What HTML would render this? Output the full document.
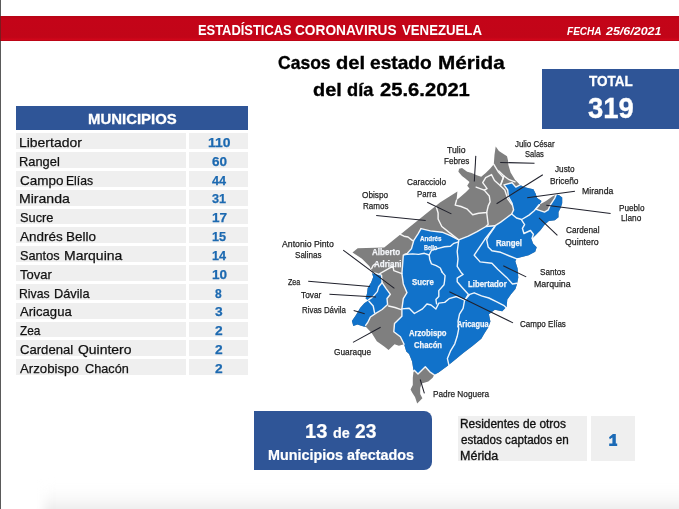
<!DOCTYPE html>
<html><head><meta charset="utf-8"><title>Estadísticas Coronavirus Venezuela</title>
<style>
html,body{margin:0;padding:0;background:#fff;}
body{width:679px;height:509px;position:relative;overflow:hidden;font-family:"Liberation Sans",sans-serif;}
.t{position:absolute;white-space:nowrap;line-height:1;transform-origin:left top;font-family:"Liberation Sans",sans-serif;}
.b{position:absolute;}
.rw{position:absolute;height:15.8px;background:#efefef;}
</style></head><body>
<div class="b" style="left:0;top:0;width:1px;height:509px;background:#5a5a5a"></div>
<div class="b" style="left:44px;top:484px;width:680px;height:40px;background:linear-gradient(#fff 0%,#fbfbfb 30%,#efefef 60%,#dedede 100%);filter:blur(5px)"></div>
<div class="b" style="left:0;top:16.3px;width:679px;height:25px;background:linear-gradient(#b50415 0%,#c40418 12%,#c20518 85%,#d0061a 94%,#b30414 100%)"></div>
<div class="b" style="left:542px;top:68.5px;width:137px;height:60.6px;background:#2f5597"></div>
<div class="b" style="left:16.3px;top:106.1px;width:232.2px;height:23.6px;background:#2f5597"></div>
<div class="b" style="left:0;top:16.3px;width:1px;height:25px;background:#7c1a1e"></div>
<div class="rw" style="top:133.30px;left:16.3px;width:169.6px"></div><div class="rw" style="top:133.30px;left:189.2px;width:59.3px"></div><div class="rw" style="top:152.13px;left:16.3px;width:169.6px"></div><div class="rw" style="top:152.13px;left:189.2px;width:59.3px"></div><div class="rw" style="top:170.96px;left:16.3px;width:169.6px"></div><div class="rw" style="top:170.96px;left:189.2px;width:59.3px"></div><div class="rw" style="top:189.79px;left:16.3px;width:169.6px"></div><div class="rw" style="top:189.79px;left:189.2px;width:59.3px"></div><div class="rw" style="top:208.62px;left:16.3px;width:169.6px"></div><div class="rw" style="top:208.62px;left:189.2px;width:59.3px"></div><div class="rw" style="top:227.45px;left:16.3px;width:169.6px"></div><div class="rw" style="top:227.45px;left:189.2px;width:59.3px"></div><div class="rw" style="top:246.28px;left:16.3px;width:169.6px"></div><div class="rw" style="top:246.28px;left:189.2px;width:59.3px"></div><div class="rw" style="top:265.11px;left:16.3px;width:169.6px"></div><div class="rw" style="top:265.11px;left:189.2px;width:59.3px"></div><div class="rw" style="top:283.94px;left:16.3px;width:169.6px"></div><div class="rw" style="top:283.94px;left:189.2px;width:59.3px"></div><div class="rw" style="top:302.77px;left:16.3px;width:169.6px"></div><div class="rw" style="top:302.77px;left:189.2px;width:59.3px"></div><div class="rw" style="top:321.60px;left:16.3px;width:169.6px"></div><div class="rw" style="top:321.60px;left:189.2px;width:59.3px"></div><div class="rw" style="top:340.43px;left:16.3px;width:169.6px"></div><div class="rw" style="top:340.43px;left:189.2px;width:59.3px"></div><div class="rw" style="top:359.26px;left:16.3px;width:169.6px"></div><div class="rw" style="top:359.26px;left:189.2px;width:59.3px"></div>
<div class="b" style="left:253.8px;top:410.9px;width:178.2px;height:58.8px;background:#2f5597;border-radius:0 8px 8px 0"></div>
<div class="b" style="left:458px;top:415.5px;width:129px;height:45.9px;background:#efefef"></div>
<div class="b" style="left:590.5px;top:415.5px;width:44.8px;height:45.9px;background:#efefef"></div>
<svg class="b" style="left:0;top:0" width="679" height="509" viewBox="0 0 679 509">
<path d="M352.5,252.4 L357.7,248.2 L384.2,247.4 L440.0,202.5 L457.4,191.5 L456.5,200.2 L460.6,196.7 L465.8,192.3 L469.5,188.6 L467.2,185.7 L469.5,182.0 L465.0,178.3 L462.0,176.1 L458.4,171.7 L459.1,168.7 L462.0,168.0 L467.2,171.7 L471.7,173.1 L476.8,175.3 L481.2,176.8 L485.7,173.1 L490.0,168.7 L493.8,164.3 L494.5,154.7 L495.7,146.6 L498.9,151.0 L507.0,156.2 L508.0,160.6 L508.4,165.0 L510.6,172.4 L515.0,179.7 L520.2,184.9 L523.9,187.1 L529.8,188.6 L533.4,189.3 L535.7,193.7 L537.1,198.1 L541.5,201.1 L539.3,204.8 L546.0,201.1 L551.9,196.7 L556.3,194.5 L559.2,195.2 L562.2,197.4 L562.2,203.3 L560.7,207.7 L558.5,212.1 L558.5,217.3 L554.8,220.2 L548.9,221.0 L544.8,224.4 L540.4,230.3 L536.0,234.7 L531.5,239.1 L533.0,243.6 L536.7,247.2 L535.2,251.7 L528.6,255.3 L522.7,256.8 L516.8,258.3 L515.3,261.2 L517.6,268.6 L518.3,277.4 L516.8,284.8 L515.4,289.1 L511.0,294.3 L507.3,299.5 L506.6,306.8 L502.2,311.2 L494.8,309.8 L488.9,314.2 L490.4,321.5 L488.2,327.4 L484.5,333.3 L481.3,338.7 L472.5,346.0 L463.6,352.7 L454.8,360.0 L447.4,365.9 L438.6,372.6 L434.2,374.8 L432.7,377.7 L428.3,381.4 L421.7,383.6 L420.2,388.0 L420.2,393.9 L422.4,398.3 L417.2,403.5 L415.0,396.9 L412.1,392.4 L410.6,389.5 L412.8,385.1 L412.8,377.7 L413.6,371.0 L412.1,361.5 L409.1,354.1 L406.3,351.5 L404.1,344.2 L398.9,345.7 L394.5,344.2 L388.6,350.0 L384.2,346.4 L376.8,341.2 L371.7,333.1 L365.8,326.8 L363.6,326.6 L357.4,324.6 L353.3,326.0 L351.9,321.1 L356.0,315.0 L360.1,308.1 L364.3,303.3 L368.4,300.5 L365.6,298.5 L367.0,293.6 L367.7,288.1 L371.1,282.6 L373.2,277.1 L371.8,272.3 L371.7,270.6 L369.5,266.2 L362.0,258.8Z" fill="#7f7f7f"/>
<path d="M421.0,228.6 L430.3,230.9 L442.1,232.2 L450.4,235.6 L458.7,239.8 L468.3,236.1 L477.1,231.7 L486.0,226.5 L494.8,225.8 L500.7,222.1 L506.6,217.7 L511.7,214.0 L513.6,209.9 L512.1,203.3 L508.4,196.7 L507.7,190.0 L504.0,184.9 L512.1,182.7 L515.8,187.1 L520.2,184.9 L523.9,187.1 L529.8,188.6 L533.4,189.3 L535.7,193.7 L537.1,198.1 L541.5,201.1 L539.3,204.8 L535.7,209.2 L544.5,212.1 L548.2,209.9 L550.4,204.8 L554.8,198.1 L556.3,194.5 L559.2,195.2 L562.2,197.4 L562.2,203.3 L560.7,207.7 L558.5,212.1 L558.5,217.3 L554.8,220.2 L548.9,221.0 L544.8,224.4 L540.4,230.3 L536.0,234.7 L531.5,239.1 L533.0,243.6 L536.7,247.2 L535.2,251.7 L528.6,255.3 L522.7,256.8 L516.8,258.3 L515.3,261.2 L517.6,268.6 L518.3,277.4 L516.8,284.8 L515.4,289.1 L511.0,294.3 L507.3,299.5 L506.6,306.8 L502.2,311.2 L494.8,309.8 L488.9,314.2 L490.4,321.5 L488.2,327.4 L484.5,333.3 L481.3,338.7 L472.5,346.0 L463.6,352.7 L454.8,360.0 L447.4,365.9 L438.6,372.6 L434.2,374.8 L429.8,371.8 L425.3,366.7 L418.0,374.0 L414.3,370.3 L413.6,371.0 L412.1,361.5 L409.1,354.1 L406.3,351.5 L404.1,344.2 L400.4,336.8 L393.8,331.7 L394.5,323.6 L401.9,316.2 L401.9,310.3 L401.9,308.9 L403.3,298.6 L407.0,292.7 L403.3,283.9 L401.9,273.6 L402.6,264.7 L403.3,255.2 L404.8,254.5 L407.4,253.3 L411.5,248.6 L413.8,240.3 L418.0,233.8Z" fill="#1172ca"/>
<path d="M371.8,272.3 L376.0,273.5 L381.5,275.1 L382.1,282.6 L386.3,288.8 L390.4,294.3 L387.0,298.5 L387.6,304.6 L382.1,309.5 L375.3,313.6 L370.4,317.0 L367.7,322.5 L365.6,325.3 L365.8,326.8 L363.6,326.6 L357.4,324.6 L353.3,326.0 L351.9,321.1 L356.0,315.0 L360.1,308.1 L364.3,303.3 L368.4,300.5 L365.6,298.5 L367.0,293.6 L367.7,288.1 L371.1,282.6 L373.2,277.1Z" fill="#1172ca"/>
<g fill="none" stroke="#fff" stroke-width="1.4" stroke-linejoin="round" stroke-linecap="round" opacity="0.93">
<path d="M421.0,228.6 L430.3,230.9 L442.1,232.2 L450.4,235.6 L458.7,239.8 L468.3,236.1 L477.1,231.7 L486.0,226.5 L494.8,225.8 L500.7,222.1 L506.6,217.7 L511.7,214.0 L513.6,209.9 L512.1,203.3 L508.4,196.7 L507.7,190.0 L504.0,184.9 L512.1,182.7 L515.8,187.1 L520.2,184.9"/>
<path d="M539.3,204.8 L535.7,209.2 L544.5,212.1 L548.2,209.9 L550.4,204.8 L554.8,198.1 L556.3,194.5"/>
<path d="M434.2,374.8 L429.8,371.8 L425.3,366.7 L418.0,374.0 L414.3,370.3 L413.6,371.0"/>
<path d="M404.1,344.2 L400.4,336.8 L393.8,331.7 L394.5,323.6 L401.9,316.2 L401.9,310.3 L401.9,308.9 L403.3,298.6 L407.0,292.7 L403.3,283.9 L401.9,273.6 L402.6,264.7 L403.3,255.2 L404.8,254.5 L407.4,253.3 L411.5,248.6 L413.8,240.3 L418.0,233.8 L421.0,228.6"/>
<path d="M371.8,272.3 L376.0,273.5 L381.5,275.1 L382.1,282.6 L386.3,288.8 L390.4,294.3 L387.0,298.5 L387.6,304.6 L382.1,309.5 L375.3,313.6 L370.4,317.0 L367.7,322.5 L365.6,325.3"/>
<path d="M382.1,282.6 L378.7,286.8 L377.3,291.6 L372.5,297.1 L368.4,299.8"/>
<path d="M369.0,301.2 L373.2,306.0 L374.6,312.9"/>
<path d="M371.7,268.4 L373.1,265.5 L375.0,264.0"/>
<path d="M379.8,273.6 L386.4,269.9 L393.0,266.2 L393.8,270.6 L401.9,273.6"/>
<path d="M388.6,306.0 L395.0,307.5 L401.1,309.6"/>
<path d="M400.3,234.4 L404.0,236.2 L408.0,237.0 L412.6,240.6"/>
<path d="M436.3,207.0 L438.1,213.0 L438.1,219.0 L441.8,226.5 L449.1,232.4 L458.7,239.8"/>
<path d="M456.5,200.2 L455.2,205.1 L461.0,206.5 L466.8,208.8 L472.7,214.7 L478.6,213.3 L486.7,212.5 L488.2,205.9 L490.1,201.9 L489.3,196.0 L484.2,190.1 L476.1,187.1"/>
<path d="M484.2,190.1 L487.1,188.6 L482.7,182.7 L485.7,177.6 L491.5,174.6 L494.5,180.5 L500.4,185.7 L503.3,177.6 L498.2,171.7 L493.8,164.3"/>
<path d="M486.7,212.5 L487.5,219.0 L488.2,224.3 L486.0,226.5"/>
<path d="M500.4,185.7 L504.8,190.0 L507.7,198.9 L512.2,204.8"/>
<path d="M498.8,170.9 L504.0,176.0 L509.1,179.7 L515.0,181.9"/>
<path d="M504.0,176.0 L501.0,184.1"/>
<path d="M404.8,254.5 L412.7,253.9 L418.6,254.4 L424.4,253.3 L429.2,255.0 L431.5,250.3 L437.4,248.6 L444.5,246.8 L450.4,246.2 L453.9,243.3 L458.6,241.8"/>
<path d="M429.2,255.0 L429.7,259.2 L431.5,263.9 L436.2,265.6 L440.3,268.0 L442.1,272.1"/>
<path d="M458.7,240.5 L457.2,251.5 L458.0,258.9 L457.2,266.3 L460.9,272.2 L463.1,274.4 L457.2,278.1 L457.2,281.8 L462.4,287.7 L468.3,294.3 L465.3,299.5"/>
<path d="M442.1,272.1 L445.1,275.6 L444.5,281.5 L444.0,284.7 L438.8,290.6 L438.8,296.5 L435.9,299.5 L436.6,303.9"/>
<path d="M401.9,308.9 L409.2,308.2 L414.4,313.5 L422.5,308.9 L426.9,304.0 L431.0,305.0 L435.9,309.0 L438.8,303.1 L444.7,302.4 L449.1,298.7 L456.5,296.5 L464.6,300.2"/>
<path d="M464.6,300.2 L463.1,308.3 L459.5,314.2 L458.0,321.5 L458.7,328.9 L457.2,336.3 L454.8,343.8 L450.4,351.2 L447.4,358.6 L448.9,365.2"/>
<path d="M465.3,299.5 L469.8,294.3 L474.2,292.8 L481.5,295.8 L488.9,298.0 L496.3,301.7 L503.6,305.3 L506.0,307.5"/>
<path d="M494.8,226.5 L484.5,239.8 L474.2,255.2 L480.1,261.9 L491.9,263.3 L497.7,269.2 L506.6,277.4 L512.5,284.0 L516.9,283.3"/>
<path d="M494.8,226.5 L488.9,235.3 L486.7,239.8 L488.2,247.1 L491.9,250.8 L500.7,252.3 L509.5,256.0 L516.9,258.9"/>
<path d="M511.7,214.0 L516.5,218.0 L521.7,219.5 L529.0,215.1 L534.2,210.7 L539.3,204.8"/>
<path d="M521.7,220.2 L524.6,224.6 L522.4,228.3 L523.9,233.5 L530.5,230.5 L533.4,234.2 L532.0,238.5"/>
</g>
<g stroke="#20212c" stroke-width="1.05" fill="none"><path d="M475.8,155.9 L474.3,181.5"/><path d="M427.2,202.2 L451.4,213.9"/><path d="M376.2,215.4 L425.7,220.4"/><path d="M500.2,162.4 L534.5,163.3"/><path d="M496.6,203.7 L542.8,174.8"/><path d="M527.2,197.8 L574.9,191.3"/><path d="M546.3,205.2 L610.6,213.4"/><path d="M539,217.9 L557.4,235.3"/><path d="M503.3,265.8 L526.2,276.9"/><path d="M449.4,291.8 L513,322.9"/><path d="M420.2,379.5 L424.4,393.3"/><path d="M353,342.4 L380.6,327.2"/><path d="M353.7,310.6 L364.7,313.7"/><path d="M329.4,294.3 L376,297.1"/><path d="M308.2,281.2 L370,286.5"/><path d="M343.2,250.1 L394.4,288.3"/></g>
</svg>
<svg class="b" style="left:600px;top:428px" width="26" height="24" viewBox="600 428 26 24"><path d="M609,437.2 L612.9,433.9 L615.8,433.9 L615.8,443.6 L617.2,443.6 L617.2,446 L609.2,446 L609.2,443.6 L612.4,443.6 L612.4,437.4 L609.8,439.3 Z" fill="#1b6ab6"/></svg>
<span class="t" style="left:197.80px;top:23.10px;font-size:14.2px;color:#fff;transform:scaleX(0.9090);font-weight:bold;">ESTADÍSTICAS</span><span class="t" style="left:295.40px;top:23.10px;font-size:14.2px;color:#fff;transform:scaleX(0.9638);font-weight:bold;">CORONAVIRUS</span><span class="t" style="left:401.90px;top:23.10px;font-size:14.2px;color:#fff;transform:scaleX(0.9302);font-weight:bold;">VENEZUELA</span><span class="t" style="left:567.10px;top:25.30px;font-size:11.7px;color:#fff;transform:scaleX(0.8590);font-weight:bold;font-style:italic;">FECHA</span><span class="t" style="left:606.17px;top:25.30px;font-size:11.7px;color:#fff;transform:scaleX(1.0668);font-weight:bold;font-style:italic;">25/6/2021</span><span class="t" style="left:278.20px;top:53.20px;font-size:19.0px;color:#000;transform:scaleX(0.9228);font-weight:bold;-webkit-text-stroke:0.35px #000;">Casos</span><span class="t" style="left:336.10px;top:53.20px;font-size:19.0px;color:#000;transform:scaleX(1.0583);font-weight:bold;-webkit-text-stroke:0.35px #000;">del</span><span class="t" style="left:370.10px;top:53.20px;font-size:19.0px;color:#000;transform:scaleX(1.0077);font-weight:bold;-webkit-text-stroke:0.35px #000;">estado</span><span class="t" style="left:437.71px;top:53.20px;font-size:19.0px;color:#000;transform:scaleX(1.0894);font-weight:bold;-webkit-text-stroke:0.35px #000;">Mérida</span><span class="t" style="left:312.50px;top:79.90px;font-size:19.0px;color:#000;transform:scaleX(1.0469);font-weight:bold;-webkit-text-stroke:0.35px #000;">del</span><span class="t" style="left:346.60px;top:79.90px;font-size:19.0px;color:#000;transform:scaleX(0.9611);font-weight:bold;-webkit-text-stroke:0.35px #000;">día</span><span class="t" style="left:380.10px;top:79.90px;font-size:19.0px;color:#000;transform:scaleX(1.0629);font-weight:bold;-webkit-text-stroke:0.35px #000;">25.6.2021</span><span class="t" style="left:589.20px;top:72.70px;font-size:15.2px;color:#fff;transform:scaleX(0.8890);font-weight:bold;-webkit-text-stroke:0.3px #fff;">TOTAL</span><span class="t" style="left:588.00px;top:94.30px;font-size:28.6px;color:#fff;transform:scaleX(0.9614);font-weight:bold;-webkit-text-stroke:0.3px #fff;">319</span><span class="t" style="left:87.62px;top:111.30px;font-size:15.2px;color:#fff;transform:scaleX(0.9837);font-weight:bold;-webkit-text-stroke:0.3px #fff;">MUNICIPIOS</span><span class="t" style="left:19.27px;top:135.90px;font-size:13.5px;color:#111;transform:scaleX(1.0333);-webkit-text-stroke:0.25px #111;">Libertador</span><span class="t" style="left:207.80px;top:135.90px;font-size:13.4px;color:#1c69b0;transform:scaleX(1.0399);font-weight:bold;-webkit-text-stroke:0.25px #1c69b0;">110</span><span class="t" style="left:19.35px;top:154.73px;font-size:13.5px;color:#111;transform:scaleX(0.9526);-webkit-text-stroke:0.25px #111;">Rangel</span><span class="t" style="left:211.50px;top:154.73px;font-size:13.4px;color:#1c69b0;transform:scaleX(1.0106);font-weight:bold;-webkit-text-stroke:0.25px #1c69b0;">60</span><span class="t" style="left:19.70px;top:173.56px;font-size:13.5px;color:#111;transform:scaleX(0.9974);-webkit-text-stroke:0.25px #111;">Campo</span><span class="t" style="left:65.80px;top:173.56px;font-size:13.5px;color:#111;transform:scaleX(0.9022);-webkit-text-stroke:0.25px #111;">Elías</span><span class="t" style="left:211.50px;top:173.56px;font-size:13.4px;color:#1c69b0;transform:scaleX(0.9452);font-weight:bold;-webkit-text-stroke:0.25px #1c69b0;">44</span><span class="t" style="left:18.86px;top:192.39px;font-size:13.5px;color:#111;transform:scaleX(1.0422);-webkit-text-stroke:0.25px #111;">Miranda</span><span class="t" style="left:211.50px;top:192.39px;font-size:13.4px;color:#1c69b0;transform:scaleX(0.9452);font-weight:bold;-webkit-text-stroke:0.25px #1c69b0;">31</span><span class="t" style="left:19.70px;top:211.22px;font-size:13.5px;color:#111;transform:scaleX(0.9494);-webkit-text-stroke:0.25px #111;">Sucre</span><span class="t" style="left:211.50px;top:211.22px;font-size:13.4px;color:#1c69b0;transform:scaleX(1.0106);font-weight:bold;-webkit-text-stroke:0.25px #1c69b0;">17</span><span class="t" style="left:19.70px;top:230.05px;font-size:13.5px;color:#111;transform:scaleX(0.9971);-webkit-text-stroke:0.25px #111;">Andrés</span><span class="t" style="left:66.10px;top:230.05px;font-size:13.5px;color:#111;transform:scaleX(0.9996);-webkit-text-stroke:0.25px #111;">Bello</span><span class="t" style="left:211.50px;top:230.05px;font-size:13.4px;color:#1c69b0;transform:scaleX(0.9452);font-weight:bold;-webkit-text-stroke:0.25px #1c69b0;">15</span><span class="t" style="left:19.70px;top:248.88px;font-size:13.5px;color:#111;transform:scaleX(0.9414);-webkit-text-stroke:0.25px #111;">Santos</span><span class="t" style="left:63.56px;top:248.88px;font-size:13.5px;color:#111;transform:scaleX(1.0363);-webkit-text-stroke:0.25px #111;">Marquina</span><span class="t" style="left:211.50px;top:248.88px;font-size:13.4px;color:#1c69b0;transform:scaleX(0.9452);font-weight:bold;-webkit-text-stroke:0.25px #1c69b0;">14</span><span class="t" style="left:19.70px;top:267.71px;font-size:13.5px;color:#111;transform:scaleX(0.9607);-webkit-text-stroke:0.25px #111;">Tovar</span><span class="t" style="left:211.50px;top:267.71px;font-size:13.4px;color:#1c69b0;transform:scaleX(1.0106);font-weight:bold;-webkit-text-stroke:0.25px #1c69b0;">10</span><span class="t" style="left:19.39px;top:286.54px;font-size:13.5px;color:#111;transform:scaleX(0.9059);-webkit-text-stroke:0.25px #111;">Rivas</span><span class="t" style="left:54.45px;top:286.54px;font-size:13.5px;color:#111;transform:scaleX(0.9458);-webkit-text-stroke:0.25px #111;">Dávila</span><span class="t" style="left:215.20px;top:286.54px;font-size:13.4px;color:#1c69b0;transform:scaleX(0.9000);font-weight:bold;-webkit-text-stroke:0.25px #1c69b0;">8</span><span class="t" style="left:19.70px;top:305.37px;font-size:13.5px;color:#111;transform:scaleX(0.9707);-webkit-text-stroke:0.25px #111;">Aricagua</span><span class="t" style="left:215.20px;top:305.37px;font-size:13.4px;color:#1c69b0;transform:scaleX(1.0286);font-weight:bold;-webkit-text-stroke:0.25px #1c69b0;">3</span><span class="t" style="left:19.70px;top:324.20px;font-size:13.5px;color:#111;transform:scaleX(0.8756);-webkit-text-stroke:0.25px #111;">Zea</span><span class="t" style="left:215.20px;top:324.20px;font-size:13.4px;color:#1c69b0;transform:scaleX(1.0286);font-weight:bold;-webkit-text-stroke:0.25px #1c69b0;">2</span><span class="t" style="left:19.70px;top:343.03px;font-size:13.5px;color:#111;transform:scaleX(0.9711);-webkit-text-stroke:0.25px #111;">Cardenal</span><span class="t" style="left:78.00px;top:343.03px;font-size:13.5px;color:#111;transform:scaleX(1.0337);-webkit-text-stroke:0.25px #111;">Quintero</span><span class="t" style="left:215.20px;top:343.03px;font-size:13.4px;color:#1c69b0;transform:scaleX(1.0286);font-weight:bold;-webkit-text-stroke:0.25px #1c69b0;">2</span><span class="t" style="left:19.70px;top:361.86px;font-size:13.5px;color:#111;transform:scaleX(0.9794);-webkit-text-stroke:0.25px #111;">Arzobispo</span><span class="t" style="left:84.60px;top:361.86px;font-size:13.5px;color:#111;transform:scaleX(0.9408);-webkit-text-stroke:0.25px #111;">Chacón</span><span class="t" style="left:215.20px;top:361.86px;font-size:13.4px;color:#1c69b0;transform:scaleX(1.0286);font-weight:bold;-webkit-text-stroke:0.25px #1c69b0;">2</span><span class="t" style="left:304.99px;top:421.50px;font-size:19.8px;color:#fff;transform:scaleX(1.0142);font-weight:bold;-webkit-text-stroke:0.2px #fff;">13</span><span class="t" style="left:333.20px;top:424.50px;font-size:15px;color:#fff;transform:scaleX(0.9556);font-weight:bold;-webkit-text-stroke:0.2px #fff;">de</span><span class="t" style="left:354.60px;top:421.50px;font-size:19.8px;color:#fff;transform:scaleX(0.9727);font-weight:bold;-webkit-text-stroke:0.2px #fff;">23</span><span class="t" style="left:268.06px;top:446.80px;font-size:15.3px;color:#fff;transform:scaleX(0.9381);font-weight:bold;-webkit-text-stroke:0.2px #fff;">Municipios afectados</span><span class="t" style="left:460.23px;top:418.30px;font-size:12.3px;color:#111;transform:scaleX(0.9684);-webkit-text-stroke:0.33px #111;">Residentes de otros</span><span class="t" style="left:461.20px;top:434.20px;font-size:12.3px;color:#111;transform:scaleX(0.9485);-webkit-text-stroke:0.33px #111;">estados captados en</span><span class="t" style="left:460.18px;top:450.20px;font-size:12.3px;color:#111;transform:scaleX(1.0177);-webkit-text-stroke:0.33px #111;">Mérida</span><span class="t" style="left:447.20px;top:145.00px;font-size:9.9px;color:#1c1c1c;transform:scaleX(0.8772);-webkit-text-stroke:0.25px #1c1c1c;">Tulio</span><span class="t" style="left:443.70px;top:155.90px;font-size:9.9px;color:#1c1c1c;transform:scaleX(0.8215);-webkit-text-stroke:0.25px #1c1c1c;">Febres</span><span class="t" style="left:407.20px;top:177.40px;font-size:9.9px;color:#1c1c1c;transform:scaleX(0.8355);-webkit-text-stroke:0.25px #1c1c1c;">Caracciolo</span><span class="t" style="left:416.90px;top:188.60px;font-size:9.9px;color:#1c1c1c;transform:scaleX(0.7990);-webkit-text-stroke:0.25px #1c1c1c;">Parra</span><span class="t" style="left:362.40px;top:189.80px;font-size:9.9px;color:#1c1c1c;transform:scaleX(0.8334);-webkit-text-stroke:0.25px #1c1c1c;">Obispo</span><span class="t" style="left:363.30px;top:200.90px;font-size:9.9px;color:#1c1c1c;transform:scaleX(0.8168);-webkit-text-stroke:0.25px #1c1c1c;">Ramos</span><span class="t" style="left:514.50px;top:138.80px;font-size:9.9px;color:#1c1c1c;transform:scaleX(0.8003);-webkit-text-stroke:0.25px #1c1c1c;">Julio César</span><span class="t" style="left:525.10px;top:149.40px;font-size:9.9px;color:#1c1c1c;transform:scaleX(0.7632);-webkit-text-stroke:0.25px #1c1c1c;">Salas</span><span class="t" style="left:554.60px;top:164.20px;font-size:9.9px;color:#1c1c1c;transform:scaleX(0.8295);-webkit-text-stroke:0.25px #1c1c1c;">Justo</span><span class="t" style="left:550.20px;top:175.70px;font-size:9.9px;color:#1c1c1c;transform:scaleX(0.8502);-webkit-text-stroke:0.25px #1c1c1c;">Briceño</span><span class="t" style="left:582.30px;top:186.30px;font-size:9.9px;color:#1c1c1c;transform:scaleX(0.8788);-webkit-text-stroke:0.25px #1c1c1c;">Miranda</span><span class="t" style="left:618.60px;top:203.10px;font-size:9.9px;color:#1c1c1c;transform:scaleX(0.8286);-webkit-text-stroke:0.25px #1c1c1c;">Pueblo</span><span class="t" style="left:620.90px;top:213.40px;font-size:9.9px;color:#1c1c1c;transform:scaleX(0.8391);-webkit-text-stroke:0.25px #1c1c1c;">Llano</span><span class="t" style="left:565.50px;top:225.20px;font-size:9.9px;color:#1c1c1c;transform:scaleX(0.8350);-webkit-text-stroke:0.25px #1c1c1c;">Cardenal</span><span class="t" style="left:564.90px;top:237.00px;font-size:9.9px;color:#1c1c1c;transform:scaleX(0.8910);-webkit-text-stroke:0.25px #1c1c1c;">Quintero</span><span class="t" style="left:539.60px;top:267.00px;font-size:9.9px;color:#1c1c1c;transform:scaleX(0.8245);-webkit-text-stroke:0.25px #1c1c1c;">Santos</span><span class="t" style="left:533.50px;top:278.50px;font-size:9.9px;color:#1c1c1c;transform:scaleX(0.8902);-webkit-text-stroke:0.25px #1c1c1c;">Marquina</span><span class="t" style="left:520.10px;top:318.50px;font-size:9.9px;color:#1c1c1c;transform:scaleX(0.8111);-webkit-text-stroke:0.25px #1c1c1c;">Campo Elías</span><span class="t" style="left:432.50px;top:388.80px;font-size:9.9px;color:#1c1c1c;transform:scaleX(0.8373);-webkit-text-stroke:0.25px #1c1c1c;">Padre Noguera</span><span class="t" style="left:334.30px;top:346.70px;font-size:9.9px;color:#1c1c1c;transform:scaleX(0.8440);-webkit-text-stroke:0.25px #1c1c1c;">Guaraque</span><span class="t" style="left:301.80px;top:305.40px;font-size:9.9px;color:#1c1c1c;transform:scaleX(0.7981);-webkit-text-stroke:0.25px #1c1c1c;">Rivas Dávila</span><span class="t" style="left:300.70px;top:289.50px;font-size:9.9px;color:#1c1c1c;transform:scaleX(0.8408);-webkit-text-stroke:0.25px #1c1c1c;">Tovar</span><span class="t" style="left:287.70px;top:276.80px;font-size:9.9px;color:#1c1c1c;transform:scaleX(0.7247);-webkit-text-stroke:0.25px #1c1c1c;">Zea</span><span class="t" style="left:282.40px;top:239.00px;font-size:9.9px;color:#1c1c1c;transform:scaleX(0.8827);-webkit-text-stroke:0.25px #1c1c1c;">Antonio Pinto</span><span class="t" style="left:295.40px;top:250.30px;font-size:9.9px;color:#1c1c1c;transform:scaleX(0.8166);-webkit-text-stroke:0.25px #1c1c1c;">Salinas</span><span class="t" style="left:419.80px;top:234.50px;font-size:7.4px;color:#f4f6fa;transform:scaleX(0.8480);font-weight:bold;-webkit-text-stroke:0.25px #f4f6fa;">Andrés</span><span class="t" style="left:423.90px;top:243.80px;font-size:7.4px;color:#f4f6fa;transform:scaleX(0.7438);font-weight:bold;-webkit-text-stroke:0.25px #f4f6fa;">Bello</span><span class="t" style="left:372.10px;top:248.20px;font-size:9.0px;color:#f4f6fa;transform:scaleX(0.8937);font-weight:bold;-webkit-text-stroke:0.25px #f4f6fa;">Alberto</span><span class="t" style="left:373.60px;top:260.00px;font-size:9.0px;color:#f4f6fa;transform:scaleX(0.8884);font-weight:bold;-webkit-text-stroke:0.25px #f4f6fa;">Adriani</span><span class="t" style="left:495.80px;top:239.20px;font-size:8.8px;color:#f4f6fa;transform:scaleX(0.8828);font-weight:bold;-webkit-text-stroke:0.25px #f4f6fa;">Rangel</span><span class="t" style="left:412.00px;top:278.10px;font-size:9.3px;color:#f4f6fa;transform:scaleX(0.8415);font-weight:bold;-webkit-text-stroke:0.25px #f4f6fa;">Sucre</span><span class="t" style="left:467.80px;top:279.50px;font-size:8.8px;color:#f4f6fa;transform:scaleX(0.8894);font-weight:bold;-webkit-text-stroke:0.25px #f4f6fa;">Libertador</span><span class="t" style="left:456.80px;top:320.00px;font-size:8.8px;color:#f4f6fa;transform:scaleX(0.8370);font-weight:bold;-webkit-text-stroke:0.25px #f4f6fa;">Aricagua</span><span class="t" style="left:408.90px;top:329.40px;font-size:9.3px;color:#f4f6fa;transform:scaleX(0.8259);font-weight:bold;-webkit-text-stroke:0.25px #f4f6fa;">Arzobispo</span><span class="t" style="left:414.20px;top:340.70px;font-size:9.3px;color:#f4f6fa;transform:scaleX(0.8195);font-weight:bold;-webkit-text-stroke:0.25px #f4f6fa;">Chacón</span>
</body></html>
